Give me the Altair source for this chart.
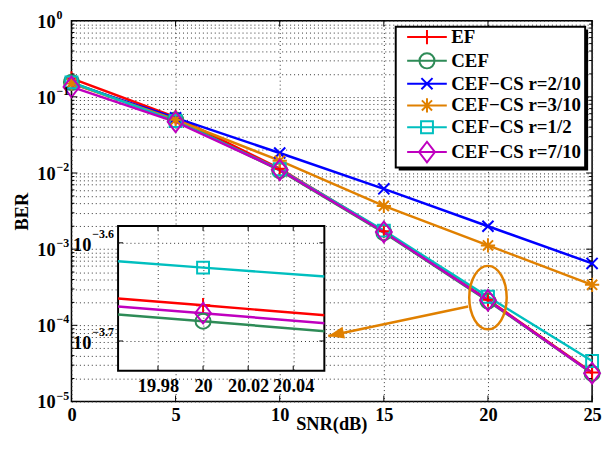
import altair as alt
import pandas as pd

FONT = "Liberation Serif"

# ---------------- data ----------------
snr = [0, 5, 10, 15, 20, 25]
ber_ef = [0.175, 0.054, 0.0114, 0.00172, 2.17e-4, 2.40e-5]
ber_cef = [0.155, 0.050, 0.0108, 0.00165, 2.09e-4, 2.35e-5]
ber_cs_2_10 = [0.150, 0.053, 0.0183, 0.0062, 0.00200, 0.00065]
ber_cs_3_10 = [0.150, 0.050, 0.0145, 0.0037, 0.00112, 0.00034]
ber_cs_1_2 = [0.155, 0.048, 0.0112, 0.00175, 2.37e-4, 3.4e-5]
ber_cs_7_10 = [0.135, 0.047, 0.0110, 0.00168, 2.13e-4, 2.35e-5]

series_names = ["EF", "CEF", "CEF−CS r=2/10", "CEF−CS r=3/10", "CEF−CS r=1/2", "CEF−CS r=7/10"]
series_values = [ber_ef, ber_cef, ber_cs_2_10, ber_cs_3_10, ber_cs_1_2, ber_cs_7_10]
series_colors = ["#ff0000", "#2e8b57", "#0000ff", "#e08000", "#00bfbf", "#bf00bf"]

x_ticks = [0, 5, 10, 15, 20, 25]
x_title = "SNR(dB)"
y_title = "BER"
y_major = [1e-5, 1e-4, 1e-3, 1e-2, 1e-1, 1.0]
y_major_exp = ["−5", "−4", "−3", "−2", "−1", "0"]
y_minor = [m * 10.0 ** k for k in range(-5, 0) for m in range(2, 10)]

inset_x_domain = [19.9623, 20.0538]
inset_y_domain = [10 ** -3.7303, 10 ** -3.5828]
inset_x_ticks = [19.98, 20.0, 20.02, 20.04]
inset_y_ticks = [10 ** -3.6, 10 ** -3.7]
inset_y_exp = ["−3.6", "−3.7"]

ellipse_x = [20]
ellipse_y = [10 ** -3.636]
arrow_from = (19.05, 10 ** -3.753)
arrow_to = (12.33, 10 ** -4.14)
ORANGE = "#e08000"

# marker paths (1 unit = 8 px at size 256)
marker_paths = [
    "M-0.9,0H0.9M0,-0.9V0.9",
    "M-0.95,0A0.95,0.95 0 1,0 0.95,0A0.95,0.95 0 1,0 -0.95,0",
    "M-0.7,-0.7L0.7,0.7M-0.7,0.7L0.7,-0.7",
    "M-0.9,0H0.9M0,-0.9V0.9M-0.64,-0.64L0.64,0.64M-0.64,0.64L0.64,-0.64",
    "M-0.75,-0.75H0.75V0.75H-0.75Z",
    "M0,-1.3L1,0L0,1.3L-1,0Z",
]
legend_paths = ["M-2.5,0H2.5" + p for p in marker_paths]

rows = []
for name, vals in zip(series_names, series_values):
    for s, b in zip(snr, vals):
        rows.append({"series": name, "snr": s, "ber": b})
df = pd.DataFrame(rows)

W, H = 525, 384
IW, IH = 208, 146
INSET_LEFT, INSET_TOP = 47, 207
LEG_X, LEG_Y = 331, 5
BOX_X1, BOX_X2, BOX_Y1, BOX_Y2 = 327, 518, 6, 148

grid_kw = dict(grid=True, gridDash=[1, 3], gridColor="#333", gridWidth=1, gridOpacity=1,
               ticks=False, domain=False)
lab_kw = dict(labelFont=FONT, labelFontSize=18.5, labelFontWeight="bold", labelColor="black")

color_scale = alt.Scale(domain=series_names, range=series_colors)

x_main = alt.X("snr:Q", scale=alt.Scale(domain=[0, 25], nice=False, zero=False),
               axis=alt.Axis(values=x_ticks, labelPadding=4, labelFlush=False, title=None,
                             **grid_kw, **lab_kw))
y_main = alt.Y("ber:Q", scale=alt.Scale(type="log", domain=[1e-5, 1], nice=False),
               axis=alt.Axis(values=y_major + y_minor, labels=False, title=y_title,
                             titleFont=FONT, titleFontSize=18.5, titleFontWeight="bold",
                             titleColor="black", titlePadding=40, **grid_kw))

lines = alt.Chart(df).mark_line(strokeWidth=2.5).encode(
    x=x_main, y=y_main,
    color=alt.Color("series:N", scale=color_scale, legend=None),
)
points = alt.Chart(df).mark_point(filled=False, size=256, strokeWidth=2, opacity=1).encode(
    x="snr:Q", y="ber:Q",
    color=alt.Color("series:N", scale=color_scale, legend=None),
    shape=alt.Shape("series:N", scale=alt.Scale(domain=series_names, range=marker_paths), legend=None),
)

leg = alt.Legend(title=None, orient="none", legendX=LEG_X, legendY=LEG_Y, direction="vertical",
                 labelFont=FONT, labelFontSize=19, labelFontWeight="bold", labelColor="black",
                 symbolSize=256, symbolStrokeWidth=2, symbolOffset=16, labelOffset=15,
                 padding=2, rowPadding=0, labelLimit=400)
legend_layer = alt.Chart(df).transform_filter("false").mark_point(
    filled=False, size=256, strokeWidth=2, opacity=1).encode(
    x="snr:Q", y="ber:Q",
    color=alt.Color("series:N", scale=color_scale, legend=leg),
    shape=alt.Shape("series:N", scale=alt.Scale(domain=series_names, range=legend_paths), legend=leg),
)
# legend box with drop shadow
one = pd.DataFrame({"a": [0]})
shadow = alt.Chart(one).mark_rect(color="black").encode(
    x=alt.value(BOX_X1 + 3), x2=alt.value(BOX_X2 + 3),
    y=alt.value(BOX_Y1 + 3), y2=alt.value(BOX_Y2 + 3))
legend_box = alt.Chart(one).mark_rect(fill="white", stroke="black", strokeWidth=2).encode(
    x=alt.value(BOX_X1), x2=alt.value(BOX_X2), y=alt.value(BOX_Y1), y2=alt.value(BOX_Y2))

ell_df = pd.DataFrame({"snr": ellipse_x, "ber": ellipse_y})
ellipse = alt.Chart(ell_df).mark_point(
    shape="M-0.59,0A0.59,1 0 1,0 0.59,0A0.59,1 0 1,0 -0.59,0",
    size=4096, filled=False, color=ORANGE, strokeWidth=2.5, opacity=1).encode(x="snr:Q", y="ber:Q")

arr_df = pd.DataFrame({"snr": [arrow_from[0]], "ber": [arrow_from[1]],
                       "snr2": [arrow_to[0]], "ber2": [arrow_to[1]]})
arrow_line = alt.Chart(arr_df).mark_rule(color=ORANGE, strokeWidth=2.5).encode(
    x="snr:Q", y="ber:Q", x2="snr2:Q", y2="ber2:Q")
head_df = pd.DataFrame({"snr": [arrow_to[0]], "ber": [arrow_to[1]]})
arrow_head = alt.Chart(head_df).mark_point(
    shape="M0,0L2,-0.75L2,0.75Z", size=256, filled=True, color=ORANGE, angle=348, opacity=1
).encode(x="snr:Q", y="ber:Q")

ymaj_df = pd.DataFrame({"ber": y_major, "exp": y_major_exp, "base": ["10"] * len(y_major)})
ymin_df = pd.DataFrame({"ber": y_minor})
x_df = pd.DataFrame({"snr": x_ticks})

y_lab10 = alt.Chart(ymaj_df).mark_text(align="right", baseline="middle", font=FONT, fontSize=18.5,
                                        fontWeight="bold", color="black", dy=1).encode(
    x=alt.value(-16), y="ber:Q", text="base:N")
y_labexp = alt.Chart(ymaj_df).mark_text(align="left", baseline="middle", font=FONT, fontSize=12,
                                         fontWeight="bold", color="black", dy=-6).encode(
    x=alt.value(-15), y="ber:Q", text="exp:N")
x_title_mark = alt.Chart(pd.DataFrame({"t": [x_title]})).mark_text(
    align="center", baseline="alphabetic", font=FONT, fontSize=18.5, fontWeight="bold", color="black"
).encode(x=alt.value(W / 2), y=alt.value(H + 29), text="t:N")

tk = dict(color="black", strokeWidth=1)
tick_layers = [
    alt.Chart(ymaj_df).mark_rule(**tk).encode(y="ber:Q", x=alt.value(0), x2=alt.value(6)),
    alt.Chart(ymaj_df).mark_rule(**tk).encode(y="ber:Q", x=alt.value(W - 6), x2=alt.value(W)),
    alt.Chart(ymin_df).mark_rule(**tk).encode(y="ber:Q", x=alt.value(0), x2=alt.value(3)),
    alt.Chart(ymin_df).mark_rule(**tk).encode(y="ber:Q", x=alt.value(W - 3), x2=alt.value(W)),
    alt.Chart(x_df).mark_rule(**tk).encode(x="snr:Q", y=alt.value(H - 6), y2=alt.value(H)),
    alt.Chart(x_df).mark_rule(**tk).encode(x="snr:Q", y=alt.value(0), y2=alt.value(6)),
]

main = alt.layer(
    lines, points, ellipse, arrow_line, arrow_head, y_lab10, y_labexp, x_title_mark,
    *tick_layers, shadow, legend_box, legend_layer
).resolve_scale(color="independent", shape="independent").properties(
    width=W, height=H, view=alt.ViewBackground(stroke="black", strokeWidth=1.5, fill="white"))

# ---------------- inset ----------------
x_in = alt.X("snr:Q", scale=alt.Scale(domain=inset_x_domain, nice=False, zero=False),
             axis=alt.Axis(values=inset_x_ticks, format=".2~f", labelPadding=6, labelFlush=False,
                           labelOverlap=False, title=None, **grid_kw, **lab_kw))
y_in = alt.Y("ber:Q", scale=alt.Scale(type="log", domain=inset_y_domain, nice=False),
             axis=alt.Axis(values=inset_y_ticks, labels=False, title=None, **grid_kw))

in_lines = alt.Chart(df).mark_line(strokeWidth=2.5, clip=True).encode(
    x=x_in, y=y_in, color=alt.Color("series:N", scale=color_scale, legend=None))
in_points = alt.Chart(df).transform_filter("datum.snr == 20").mark_point(
    filled=False, size=256, strokeWidth=2, opacity=1, clip=True).encode(
    x="snr:Q", y="ber:Q",
    color=alt.Color("series:N", scale=color_scale, legend=None),
    shape=alt.Shape("series:N", scale=alt.Scale(domain=series_names, range=marker_paths), legend=None))

iy_df = pd.DataFrame({"ber": inset_y_ticks, "exp": inset_y_exp, "base": ["10"] * 2})
ix_df = pd.DataFrame({"snr": inset_x_ticks})
in_lab10 = alt.Chart(iy_df).mark_text(align="right", baseline="middle", font=FONT, fontSize=18.5,
                                       fontWeight="bold", color="black", dy=2).encode(
    x=alt.value(-27), y="ber:Q", text="base:N")
in_labexp = alt.Chart(iy_df).mark_text(align="left", baseline="middle", font=FONT, fontSize=12,
                                        fontWeight="bold", color="black", dy=-9).encode(
    x=alt.value(-26), y="ber:Q", text="exp:N")
in_ticks = [
    alt.Chart(iy_df).mark_rule(**tk).encode(y="ber:Q", x=alt.value(0), x2=alt.value(5)),
    alt.Chart(iy_df).mark_rule(**tk).encode(y="ber:Q", x=alt.value(IW - 5), x2=alt.value(IW)),
    alt.Chart(ix_df).mark_rule(**tk).encode(x="snr:Q", y=alt.value(IH - 5), y2=alt.value(IH)),
    alt.Chart(ix_df).mark_rule(**tk).encode(x="snr:Q", y=alt.value(0), y2=alt.value(5)),
]

inset = alt.layer(in_lines, in_points, in_lab10, in_labexp, *in_ticks).resolve_scale(
    shape="independent").properties(
    width=IW, height=IH, view=alt.ViewBackground(stroke="black", strokeWidth=2, fill="white"))

spacer = alt.Chart(pd.DataFrame({"a": [0]})).mark_text().encode(
    x=alt.value(0), y=alt.value(0), text=alt.value("")).properties(width=INSET_LEFT, height=IH)

row = alt.hconcat(spacer, inset, spacing=0, bounds="flush")
chart = alt.concat(main, row, columns=1, spacing=INSET_TOP - H, align="none", bounds="flush").properties(
    padding={"left": 4, "top": -2, "right": -2, "bottom": -3}
).configure_view(stroke="transparent").configure_legend(strokeWidth=0)

chart.save("out.html", embed_options={"renderer": "svg", "actions": False})
